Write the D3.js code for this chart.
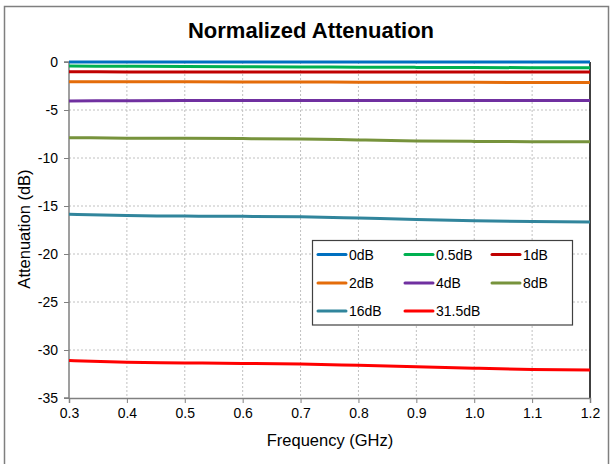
<!DOCTYPE html>
<html><head><meta charset="utf-8">
<script src="https://cdn.jsdelivr.net/npm/d3@7"></script>
<style>body{margin:0;background:#fff;font-family:"Liberation Sans",Arial,sans-serif;}</style>
</head><body>
<svg id="c" width="613" height="464"></svg>
<script>
const freqs = [0.3,0.4,0.5,0.6,0.7,0.8,0.9,1.0,1.1,1.2];
const seriesNames = ["0dB","0.5dB","1dB","2dB","4dB","8dB","16dB","31.5dB"];
const seriesColors = ["#0070C0","#00B050","#C00000","#E46C0A","#7030A0","#77933C","#31859C","#FF0000"];
const s0 = [0,0,0,0,0,0,0,0,0,0];
const s05 = [-0.42,-0.45,-0.47,-0.5,-0.52,-0.54,-0.56,-0.58,-0.59,-0.6];
const s1 = [-1.02,-1.03,-1.03,-1.04,-1.04,-1.05,-1.05,-1.05,-1.05,-1.05];
const s2 = [-2.05,-2.06,-2.07,-2.08,-2.09,-2.1,-2.11,-2.12,-2.13,-2.14];
const s4 = [-4.05,-4.03,-4.02,-4.01,-4.0,-4.0,-4.0,-4.0,-4.0,-4.0];
const s8 = [-7.88,-7.93,-7.95,-7.98,-8.02,-8.12,-8.22,-8.27,-8.3,-8.32];
const s16 = [-15.87,-16.0,-16.05,-16.08,-16.12,-16.25,-16.4,-16.53,-16.62,-16.66];
const s315 = [-31.1,-31.28,-31.35,-31.4,-31.46,-31.6,-31.75,-31.9,-32.03,-32.08];
const seriesValues = [s0,s05,s1,s2,s4,s8,s16,s315];
const xTicks = [0.3,0.4,0.5,0.6,0.7,0.8,0.9,1.0,1.1,1.2];
const yTicks = [0,-5,-10,-15,-20,-25,-30,-35];

const svg = d3.select("#c");
// outer frame
svg.append("rect").attr("x",4.5).attr("y",6.5).attr("width",604).attr("height",470)
  .attr("fill","none").attr("stroke","#7f7f7f").attr("stroke-width",1.5);

const x = d3.scaleLinear().domain([0.3,1.2]).range([69,590]);
const y = d3.scaleLinear().domain([0,-35]).range([62,398]);

// gridlines
const g = svg.append("g");
g.selectAll(".vg").data(xTicks.slice(1,-1)).join("line")
  .attr("x1",d=>x(d)).attr("x2",d=>x(d)).attr("y1",y(0)).attr("y2",y(-35))
  .attr("stroke","#c0c0c0").attr("stroke-dasharray","2,2").attr("stroke-width",1);
g.selectAll(".hg").data(yTicks.slice(1,-1)).join("line")
  .attr("x1",x(0.3)).attr("x2",x(1.2)).attr("y1",d=>y(d)).attr("y2",d=>y(d))
  .attr("stroke","#c0c0c0").attr("stroke-dasharray","2,2").attr("stroke-width",1);

// right border of plot
svg.append("line").attr("x1",x(1.2)).attr("x2",x(1.2)).attr("y1",y(0)).attr("y2",y(-35))
  .attr("stroke","#000").attr("stroke-width",1.5);

// axes
const yAxis = svg.append("g").attr("transform",`translate(${x(0.3)},0)`)
  .call(d3.axisLeft(y).tickValues(yTicks).tickSize(5).tickPadding(6).tickFormat(d => String(d)));
const xAxis = svg.append("g").attr("transform",`translate(0,${y(-35)})`)
  .call(d3.axisBottom(x).tickValues(xTicks).tickSize(5).tickPadding(5).tickFormat(d => d.toFixed(1)));
[yAxis,xAxis].forEach(a=>{
  a.select(".domain").attr("stroke","#808080").attr("stroke-width",1.5);
  a.selectAll(".tick line").attr("stroke","#808080");
  a.selectAll("text").attr("font-family","Liberation Sans, Arial, sans-serif").attr("font-size",14).attr("fill","#000");
});
yAxis.select(".domain").attr("d",`M-5,${y(0)}H0V${y(-35)}H-5`);

// lines
const line = d3.line().x((d,i)=>x(freqs[i])).y(d=>y(d)).curve(d3.curveMonotoneX);
seriesValues.forEach((vals,i)=>{
  svg.append("path").datum(vals).attr("d",line).attr("fill","none")
    .attr("stroke",seriesColors[i]).attr("stroke-width",3).attr("stroke-linecap","butt");
});

// titles
svg.append("text").attr("x",311).attr("y",38).attr("text-anchor","middle")
  .attr("font-size",22).attr("font-weight","bold").text("Normalized Attenuation");
svg.append("text").attr("x",330).attr("y",446).attr("text-anchor","middle")
  .attr("font-size",16.5).text("Frequency (GHz)");
svg.append("text").attr("transform","translate(30,229) rotate(-90)").attr("text-anchor","middle")
  .attr("font-size",16.5).text("Attenuation (dB)");

// legend
const leg = svg.append("g");
leg.append("rect").attr("x",312.5).attr("y",240.5).attr("width",260).attr("height",84.5)
  .attr("fill","#fff").attr("stroke","#404040").attr("stroke-width",1.2);
const colX = [318,405,492], rowY = [254.5,283,311];
seriesNames.forEach((n,i)=>{
  const cx = colX[i%3], cy = rowY[Math.floor(i/3)];
  leg.append("line").attr("x1",cx).attr("x2",cx+28).attr("y1",cy).attr("y2",cy)
    .attr("stroke",seriesColors[i]).attr("stroke-width",3).attr("stroke-linecap","round");
  leg.append("text").attr("x",cx+31).attr("y",cy+5).attr("font-size",14).text(n);
});
</script>
</body></html>
